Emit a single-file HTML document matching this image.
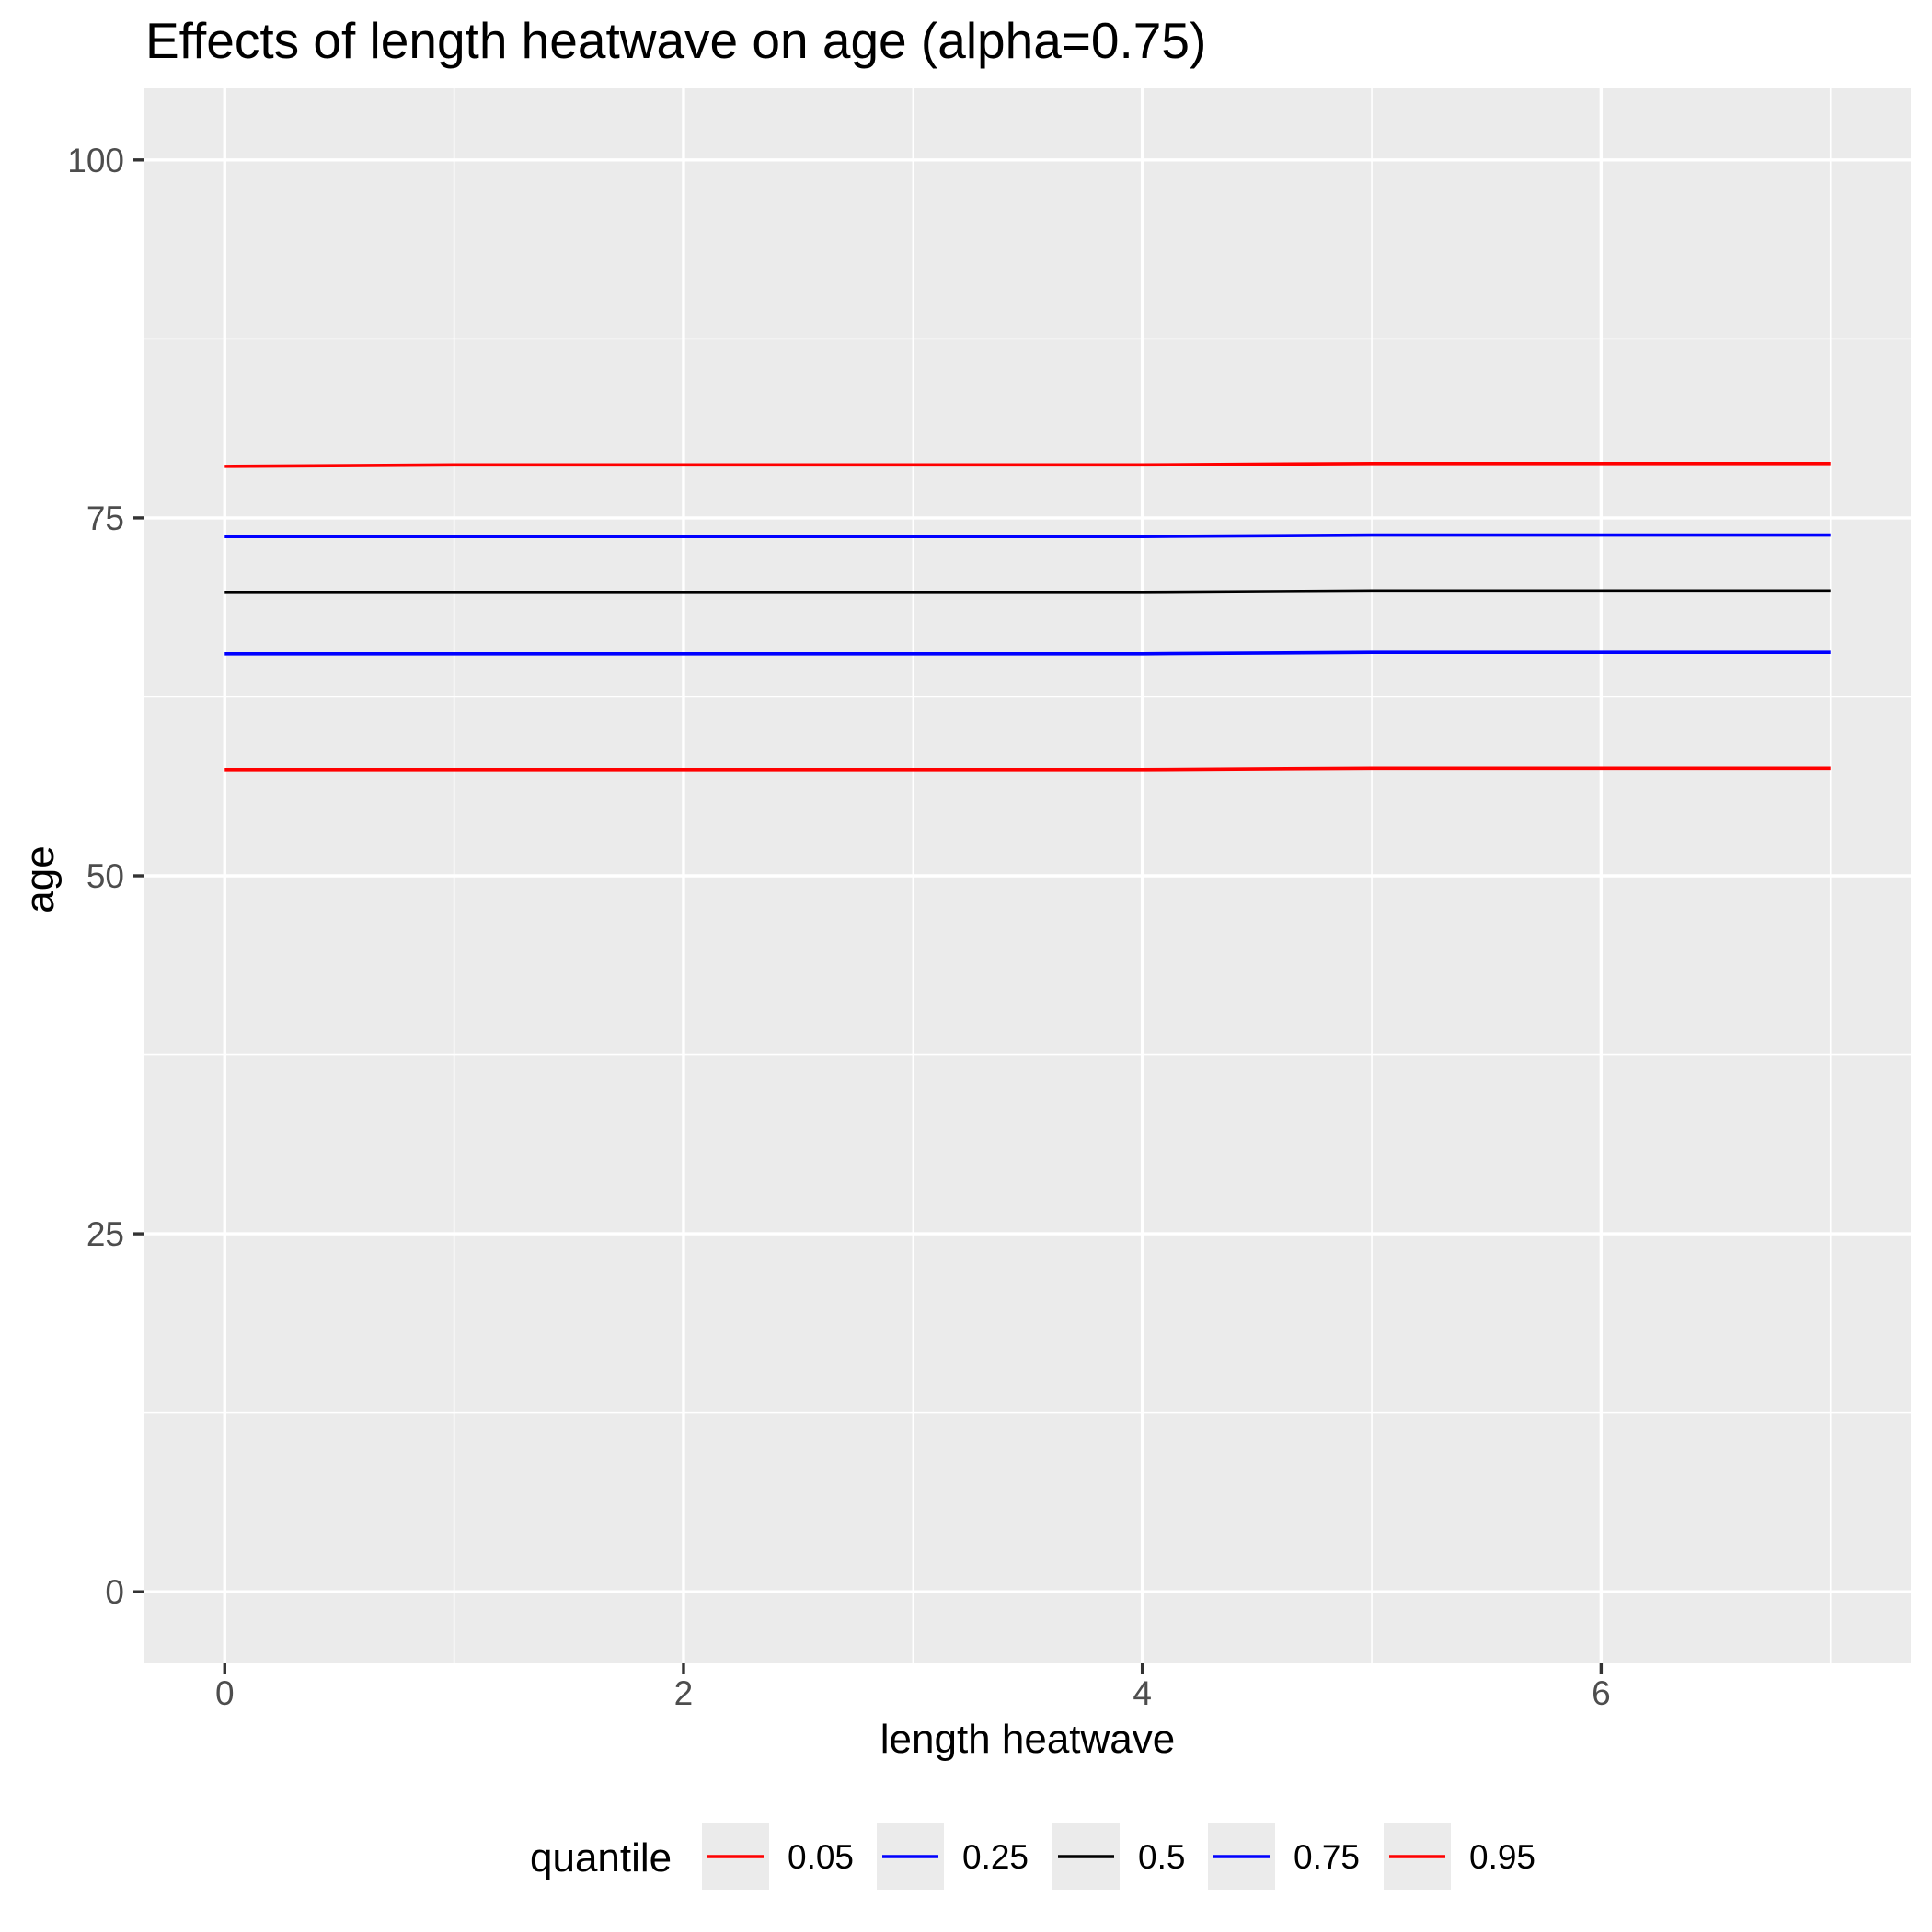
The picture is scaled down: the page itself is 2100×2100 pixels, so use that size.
<!DOCTYPE html>
<html><head><meta charset="utf-8"><style>
html,body{margin:0;padding:0;background:#fff}
svg{display:block;font-family:"Liberation Sans",Arial,sans-serif}
</style></head><body>
<svg id="chart" width="2100" height="2100" viewBox="0 0 2100 2100" xmlns="http://www.w3.org/2000/svg">
<text x="158" y="63" font-size="55" fill="#000">Effects of length heatwave on age (alpha=0.75)</text>
<rect x="157" y="96" width="1920" height="1712" fill="#ebebeb"/>
<g id="grid"></g>
<g id="series"></g>
<g id="axes"></g>
<text x="1117" y="1905" font-size="44" text-anchor="middle" fill="#000">length heatwave</text>
<text transform="translate(58,956) rotate(-90)" font-size="44" text-anchor="middle" fill="#000">age</text>
<g id="legend"></g>
</svg>
<script>
const xValues=[0,1,2,3,4,5,6,7];
const quantiles=["0.05","0.25","0.5","0.75","0.95"];
const q05=[57.4,57.4,57.4,57.4,57.4,57.5,57.5,57.5];
const q25=[65.5,65.5,65.5,65.5,65.5,65.6,65.6,65.6];
const q50=[69.8,69.8,69.8,69.8,69.8,69.9,69.9,69.9];
const q75=[73.7,73.7,73.7,73.7,73.7,73.8,73.8,73.8];
const q95=[78.6,78.7,78.7,78.7,78.7,78.8,78.8,78.8];
const xTicks=[0,2,4,6];
const xMinor=[1,3,5,7];
const yTicks=[0,25,50,75,100];
const yMinor=[12.5,37.5,62.5,87.5];
const colors=["#ff0000","#0000ff","#000000","#0000ff","#ff0000"];
const series=[q05,q25,q50,q75,q95];
const NS="http://www.w3.org/2000/svg";
const X0=157,X1=2077,Y0=96,Y1=1808;
const xMin=-0.35,xMax=7.35,yMin=-5,yMax=105;
const sx=v=>X0+(v-xMin)/(xMax-xMin)*(X1-X0);
const sy=v=>Y1-(v-yMin)/(yMax-yMin)*(Y1-Y0);
function mk(tag,attrs,parent){const e=document.createElementNS(NS,tag);for(const k in attrs)e.setAttribute(k,attrs[k]);parent.appendChild(e);return e;}
const grid=document.getElementById('grid');
yMinor.forEach(v=>{const l=mk('line',{x1:X0,x2:X1,y1:sy(v),y2:sy(v),stroke:'#fff','stroke-width':1.6},grid);

});
xMinor.forEach(v=>{const l=mk('line',{x1:sx(v),x2:sx(v),y1:Y0,y2:Y1,stroke:'#fff','stroke-width':1.6},grid);

});
yTicks.forEach(v=>{const l=mk('line',{x1:X0,x2:X1,y1:sy(v),y2:sy(v),stroke:'#fff','stroke-width':3.4},grid);

});
xTicks.forEach(v=>{const l=mk('line',{x1:sx(v),x2:sx(v),y1:Y0,y2:Y1,stroke:'#fff','stroke-width':3.4},grid);

});
const sg=document.getElementById('series');
series.forEach((s,i)=>{const pts=s.map((v,j)=>sx(xValues[j])+','+sy(v)).join(' ');
const p=mk('polyline',{points:pts,fill:'none',stroke:colors[i],'stroke-width':3.6},sg);

});
const ax=document.getElementById('axes');
yTicks.forEach(v=>{const t=mk('line',{x1:145,x2:157,y1:sy(v),y2:sy(v),stroke:'#333','stroke-width':3.4},ax);


const tx=mk('text',{x:135,y:sy(v)+13,'font-size':37,'text-anchor':'end',fill:'#4d4d4d'},ax);tx.textContent=v;

});
xTicks.forEach(v=>{const t=mk('line',{x1:sx(v),x2:sx(v),y1:1808,y2:1820,stroke:'#333','stroke-width':3.4},ax);


const tx=mk('text',{x:sx(v),y:1853,'font-size':37,'text-anchor':'middle',fill:'#4d4d4d'},ax);tx.textContent=v;

});
const lg=document.getElementById('legend');
const lt=mk('text',{x:576,y:2034,'font-size':44,fill:'#000'},lg);lt.textContent='quantile';


const keyX=[763,953,1144,1313,1504];
quantiles.forEach((q,i)=>{const g=mk('g',{},lg);


mk('rect',{x:keyX[i],y:1982,width:73,height:72,fill:'#ebebeb'},g);
mk('line',{x1:keyX[i]+6,x2:keyX[i]+67,y1:2018,y2:2018,stroke:colors[i],'stroke-width':3.6},g);
const t=mk('text',{x:keyX[i]+93,y:2031,'font-size':37,fill:'#000'},g);t.textContent=q;});
</script>
</body></html>
